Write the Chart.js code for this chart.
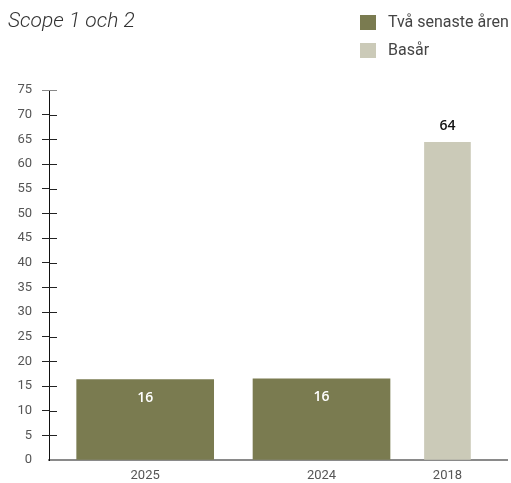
<!DOCTYPE html>
<html>
<head>
<meta charset="utf-8">
<script src="https://cdn.jsdelivr.net/npm/chart.js@4/dist/chart.umd.min.js"></script>
<style>
  html,body{margin:0;padding:0;background:#fff;}
  #wrap{position:relative;width:511px;height:483px;overflow:hidden;}
  canvas{position:absolute;left:0;top:0;}
  #title{position:absolute;left:8px;top:8px;font-family:Roboto,sans-serif;font-style:italic;font-weight:300;font-size:21px;color:#333;white-space:nowrap;}
  .leg{position:absolute;left:360px;font-family:Roboto,sans-serif;font-size:16px;color:#444;white-space:nowrap;height:16px;line-height:16px;}
  .leg span.box{position:absolute;left:0;top:0;width:16px;height:15px;}
  .leg span.txt{position:absolute;left:28px;top:-1px;}
</style>
</head>
<body>
<div id="wrap">
  <canvas id="c" width="511" height="483"></canvas>
  <div id="title">Scope 1 och 2</div>
  <div id="legend"></div>
</div>
<script>
// ---- data ----
const categories = ['2025', '2024', '2018'];
const values = [16.3, 16.45, 64.4];
const seriesNames = ['Två senaste åren', 'Basår'];
const seriesOfCategory = [0, 0, 1];           // which series each category belongs to
const yTicks = [0,5,10,15,20,25,30,35,40,45,50,55,60,65,70,75];

// ---- layout (sizes only) ----
const colors = ['#7a7b50', '#cbcab8'];
const slotWidths = [3, 3, 1];   // relative bar widths
const leadGap = 0.6, gaps = [0.85, 0.75];
const xMax = 10;
const barPx = [137, 137, 46];

// category centres in x-scale units, derived from layout widths
const centers = [];
{ let pos = leadGap; slotWidths.forEach((w, i) => { centers.push(pos + w / 2); pos += w + (gaps[i] || 0); }); }

const datasets = seriesNames.map((name, s) => {
  const idx = categories.map((c, i) => i).filter(i => seriesOfCategory[i] === s);
  return {
    label: name,
    data: idx.map(i => ({ x: centers[i], y: values[i] })),
    backgroundColor: colors[s],
    barThickness: barPx[idx[0]],
    grouped: false,
    borderWidth: 0
  };
});

// HTML legend
const legEl = document.getElementById('legend');
seriesNames.forEach((n, s) => {
  const d = document.createElement('div');
  d.className = 'leg';
  d.style.top = (15 + s * 28) + 'px';
  d.innerHTML = '<span class="box" style="background:' + colors[s] + '"></span><span class="txt">' + n + '</span>';
  legEl.appendChild(d);
});

const innerTicks = {
  id: 'innerTicks',
  afterDraw(chart) {
    const y = chart.scales.y, ctx = chart.ctx, x0 = chart.chartArea.left;
    ctx.save();
    y.ticks.forEach(t => {
      if (t.value === 0) return;
      const py = Math.round(y.getPixelForValue(t.value)) + 0.5;
      ctx.strokeStyle = t.value === 75 ? '#888' : '#222';
      ctx.lineWidth = 1;
      ctx.beginPath(); ctx.moveTo(x0, py); ctx.lineTo(x0 + 8, py); ctx.stroke();
    });
    ctx.restore();
  }
};

const valueLabels = {
  id: 'valueLabels',
  afterDatasetsDraw(chart) {
    const ctx = chart.ctx;
    ctx.save();
    ctx.font = '600 14px "Open Sans", sans-serif';
    ctx.textAlign = 'center';
    ctx.textBaseline = 'middle';
    chart.data.datasets.forEach((ds, di) => {
      chart.getDatasetMeta(di).data.forEach((el, i) => {
        const v = Math.round(ds.data[i].y);
        if (di === 0) { ctx.fillStyle = '#fff'; ctx.fillText(v, el.x, el.y + 18); }
        else { ctx.fillStyle = '#111'; ctx.fillText(v, el.x, el.y - 16); }
      });
    });
    ctx.restore();
  }
};

new Chart(document.getElementById('c'), {
  type: 'bar',
  data: { datasets },
  options: {
    responsive: false,
    animation: false,
    layout: { padding: { top: 90, right: 4, left: 0, bottom: 0 } },
    plugins: { legend: { display: false }, tooltip: { enabled: false } },
    scales: {
      x: {
        type: 'linear', min: 0, max: xMax, offset: false,
        afterBuildTicks: s => { s.ticks = centers.map(v => ({ value: v })); },
        afterFit: s => { s.height = 23; },
        grid: { display: false, drawTicks: false },
        border: { display: true, color: '#8a8a8a', width: 2 },
        ticks: {
          padding: 8, color: '#555', autoSkip: false, maxRotation: 0,
          font: { family: 'Roboto, sans-serif', size: 13 },
          callback: (v, i) => categories[i]
        }
      },
      y: {
        min: 0, max: 75,
        afterBuildTicks: s => { s.ticks = yTicks.map(v => ({ value: v })); },
        afterFit: s => { s.width = 49; },
        grid: {
          drawOnChartArea: false, drawTicks: true, tickLength: 7,
          color: ctx => (ctx.tick && ctx.tick.value === 75) ? '#888' : (ctx.tick && ctx.tick.value === 0 ? 'rgba(0,0,0,0)' : '#222')
        },
        border: { display: true, color: '#111', width: 1 },
        ticks: {
          padding: 10, color: '#555',
          font: { family: 'Roboto, sans-serif', size: 13 }
        }
      }
    }
  },
  plugins: [innerTicks, valueLabels]
});
</script>
</body>
</html>
